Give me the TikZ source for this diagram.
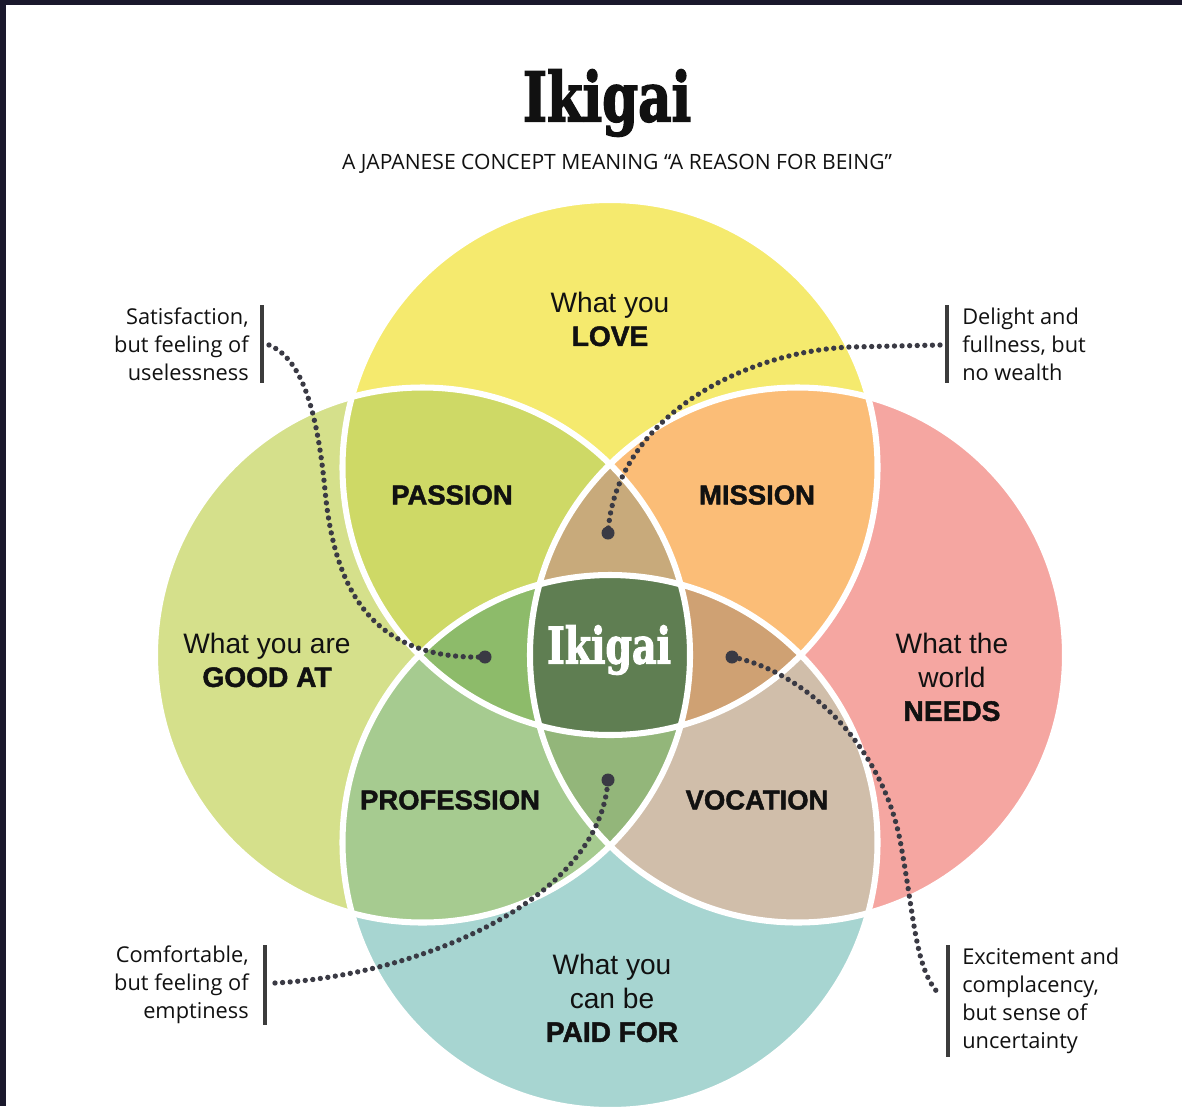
\documentclass[tikz,border=0pt]{standalone}
\usepackage{fontspec}
\setmainfont{Liberation Sans}[BoldFeatures={FakeBold=1.6}]
\newfontfamily\notefont{Open Sans}
\newfontfamily\titlefont{DejaVu Serif}[FakeStretch=0.75, BoldFeatures={FakeStretch=0.75, FakeBold=2}]
\usetikzlibrary{positioning}

\definecolor{framecol}{HTML}{1A182C}
\definecolor{loveyellow}{HTML}{F5EA6E}
\definecolor{goodgreen}{HTML}{D5E08B}
\definecolor{needspink}{HTML}{F5A6A1}
\definecolor{paidteal}{HTML}{A7D5D1}
\definecolor{passioncol}{HTML}{CED966}
\definecolor{missioncol}{HTML}{FBBD77}
\definecolor{professioncol}{HTML}{A6CB90}
\definecolor{vocationcol}{HTML}{D0BEAA}
\definecolor{toplens}{HTML}{C8AA7B}
\definecolor{leftlens}{HTML}{8DBB6A}
\definecolor{rightlens}{HTML}{CFA173}
\definecolor{bottomlens}{HTML}{93B67A}
\definecolor{centercol}{HTML}{5F7E52}
\definecolor{dotgray}{HTML}{3A3A44}
\definecolor{bargray}{HTML}{3C3C3C}
\definecolor{inkcol}{HTML}{111111}

\begin{document}
\begin{tikzpicture}[x=0.025cm, y=-0.025cm,
	region/.style={font=\bfseries\fontsize{19.5}{22}\selectfont, text=inkcol},
	circlabel/.style={align=center, font=\fontsize{20}{24}\selectfont, text=inkcol},
	note/.style={font=\notefont\fontsize{15.5}{20}\selectfont, text=inkcol, inner sep=0pt},
	notebar/.style={line width=2.2pt, draw=bargray},
	dots/.style={line width=3.8pt, line cap=round, dash pattern=on 0pt off 5.4pt, draw=dotgray},
	enddot/.style={fill=dotgray},
	outline/.style={draw=white, line width=4.3pt}]
	\useasboundingbox (0,0) rectangle (1182,1106);
	\clip (0,0) rectangle (1182,1106);

	% frame
	\fill[framecol] (0,0) rectangle (1182,5);
	\fill[framecol] (0,0) rectangle (6,1106);

	% circle centres
	\coordinate (love) at (610,467.5);
	\coordinate (good) at (422.5,655);
	\coordinate (needs) at (797.5,655);
	\coordinate (paid) at (610,842.5);
	\def\rad{267.5}

	% draw circles
	\fill[loveyellow] (love) circle (\rad);
	\fill[goodgreen] (good) circle (\rad);
	\fill[needspink] (needs) circle (\rad);
	\fill[paidteal] (paid) circle (\rad);

	% two circles
	\begin{scope} \clip (love) circle (\rad); \fill[passioncol] (good) circle (\rad); \end{scope}
	\begin{scope} \clip (love) circle (\rad); \fill[missioncol] (needs) circle (\rad); \end{scope}
	\begin{scope} \clip (paid) circle (\rad); \fill[professioncol] (good) circle (\rad); \end{scope}
	\begin{scope} \clip (paid) circle (\rad); \fill[vocationcol] (needs) circle (\rad); \end{scope}

	% three circles
	\begin{scope} \clip (love) circle (\rad); \clip (good) circle (\rad); \fill[toplens] (needs) circle (\rad); \end{scope}
	\begin{scope} \clip (love) circle (\rad); \clip (paid) circle (\rad); \fill[leftlens] (good) circle (\rad); \end{scope}
	\begin{scope} \clip (love) circle (\rad); \clip (paid) circle (\rad); \fill[rightlens] (needs) circle (\rad); \end{scope}
	\begin{scope} \clip (paid) circle (\rad); \clip (good) circle (\rad); \fill[bottomlens] (needs) circle (\rad); \end{scope}

	% all four
	\begin{scope}
		\clip (love) circle (\rad); \clip (paid) circle (\rad); \clip (good) circle (\rad);
		\fill[centercol] (needs) circle (\rad);
	\end{scope}

	% white outlines
	\foreach \c in {love, good, needs, paid}
	\draw[outline] (\c) circle (\rad);

	% titles
	\node[text=inkcol] (title) at (607,103) {\titlefont\bfseries\fontsize{48.8}{50}\selectfont Ikigai};
	\node[font=\notefont\fontsize{15}{16}\selectfont, text=inkcol] (subtitle) at (617,164)
		{A JAPANESE CONCEPT MEANING “A REASON FOR BEING”};

	% circle labels
	\node[circlabel] (lovelbl) at (610,319) {What you\\\textbf{LOVE}};
	\node[circlabel] (goodlbl) at (267,660) {What you are\\\textbf{GOOD AT}};
	\node[circlabel] (needslbl) at (952,677) {What the\\world\\\textbf{NEEDS}};
	\node[circlabel] (paidlbl) at (612,998) {What you\\can be\\\textbf{PAID FOR}};

	% regions
	\node[region] (passion) at (452,495) {PASSION};
	\node[region] (mission) at (757,495) {MISSION};
	\node[region] (profession) at (450,800) {PROFESSION};
	\node[region] (vocation) at (757,800) {VOCATION};
	\node[text=white] (ikigai) at (609,650) {\titlefont\bfseries\fontsize{36}{38}\selectfont Ikigai};

	% notes
	\node[note, anchor=east, align=right] (usel) at (249,344) {Satisfaction,\\but feeling of\\uselessness};
	\node[note, anchor=west, align=left] (wealth) at (962,344) {Delight and\\fullness, but\\no wealth};
	\node[note, anchor=east, align=right] (empty) at (249,985) {Comfortable,\\but feeling of\\emptiness};
	\node[note, anchor=west, align=left] (uncert) at (962,1001) {Excitement and\\complacency,\\but sense of\\uncertainty};

	% bars
	\draw[notebar] (262,305) -- (262,383);
	\draw[notebar] (947,305) -- (947,383);
	\draw[notebar] (265,945) -- (265,1025);
	\draw[notebar] (948,945) -- (948,1057);

	% dotted connectors
	\coordinate (uselstart) at (269,345);
	\coordinate (uselend) at (485,657);
	\coordinate (wealthstart) at (940,345);
	\coordinate (wealthend) at (608,533);
	\coordinate (emptystart) at (275,983);
	\coordinate (emptyend) at (608,780);
	\coordinate (uncertstart) at (732,657);
	\coordinate (uncertend) at (940,995);

	\draw[dots] (uselstart) .. controls (305,360) and (318,420) .. (325,490)
		.. controls (335,600) and (380,660) .. (uselend);
	\draw[dots] (wealthstart) -- (850,347) .. controls (740,352) and (615,420) .. (wealthend);
	\draw[dots] (emptystart) .. controls (420,975) and (600,900) .. (emptyend);
	\draw[dots] (uncertstart) .. controls (800,670) and (880,740) .. (900,840)
		.. controls (915,920) and (915,970) .. (uncertend);

	\foreach \p in {uselend, wealthend, emptyend, uncertstart}
	\fill[enddot] (\p) circle (6.5);
\end{tikzpicture}
\end{document}
